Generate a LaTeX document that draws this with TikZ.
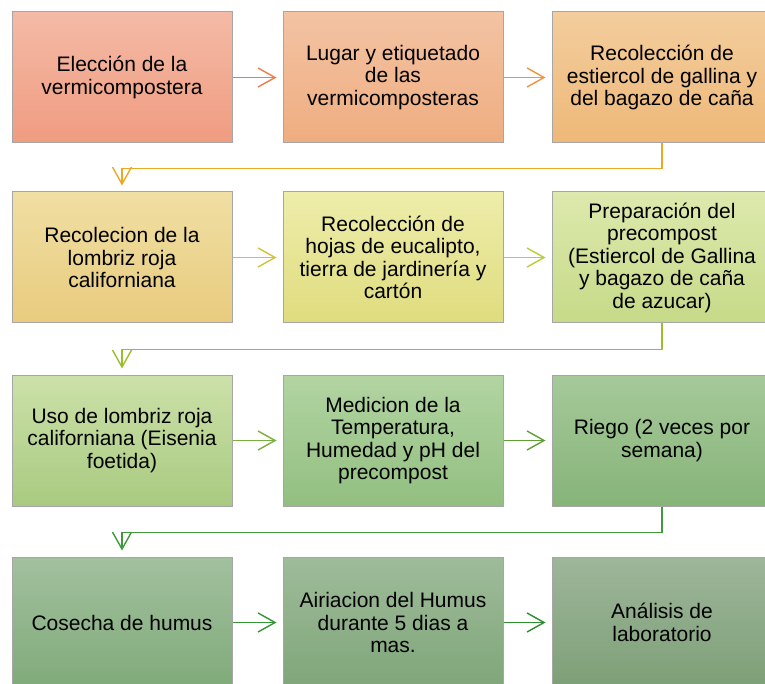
\documentclass[tikz,border=0pt]{standalone}
\usepackage{fontspec}
\setmainfont{Liberation Sans}
\usepackage{tikz}
\usetikzlibrary{arrows.meta}
\definecolor{cA1}{HTML}{F4BAA6}\definecolor{cA2}{HTML}{F09C80}
\definecolor{cB1}{HTML}{F3C3A3}\definecolor{cB2}{HTML}{EFAD80}
\definecolor{cC1}{HTML}{F3CD9D}\definecolor{cC2}{HTML}{EEB878}
\definecolor{cD1}{HTML}{F0DFA3}\definecolor{cD2}{HTML}{E8CB7E}
\definecolor{cE1}{HTML}{EEEDAA}\definecolor{cE2}{HTML}{DFDC7E}
\definecolor{cF1}{HTML}{DDE9AD}\definecolor{cF2}{HTML}{C6DA88}
\definecolor{cG1}{HTML}{CCE1A9}\definecolor{cG2}{HTML}{A9CA80}
\definecolor{cH1}{HTML}{B2D4A2}\definecolor{cH2}{HTML}{92BF80}
\definecolor{cI1}{HTML}{A6C99A}\definecolor{cI2}{HTML}{86B478}
\definecolor{cJ1}{HTML}{A2C09E}\definecolor{cJ2}{HTML}{80AA7A}
\definecolor{cK1}{HTML}{9FBB9A}\definecolor{cK2}{HTML}{7FA679}
\definecolor{cL1}{HTML}{9EB69A}\definecolor{cL2}{HTML}{7D9F77}
\definecolor{aA}{HTML}{EE7C4B}\definecolor{aB}{HTML}{F0923E}
\definecolor{sA}{HTML}{EBA826}
\definecolor{aC}{HTML}{D2C23A}\definecolor{aD}{HTML}{BCCB38}
\definecolor{sB}{HTML}{9CBD2C}
\definecolor{aE}{HTML}{78AF3E}\definecolor{aF}{HTML}{5EA036}
\definecolor{sC}{HTML}{3E9A3A}
\definecolor{aG}{HTML}{349436}\definecolor{aH}{HTML}{2E8B2E}
\tikzstyle{Etapa}=[rectangle, minimum width=220, minimum height=131, align=center, draw=black!35, line width=1pt, font=\fontsize{21}{22.5}\selectfont]
\tikzstyle{Flecha}=[line width=1.4pt, -{Straight Barb[length=17pt,width=19pt,line width=1.4pt]}, shorten >=6pt]

\begin{document}
\begin{tikzpicture}[x=1pt, y=-1pt]
    \useasboundingbox (0,0) rectangle (765,684);
    \clip (0,0) rectangle (765,684);
    \path
    (122,77.5) node[Etapa, top color=cA1, bottom color=cA2] (eleccion) {Elección de la\\vermicompostera}
    (393,77.5) node[Etapa, top color=cB1, bottom color=cB2] (lugar) {Lugar y etiquetado\\de las\\vermicomposteras}
    (662,77.5) node[Etapa, top color=cC1, bottom color=cC2] (estiercol) {Recolección de\\estiercol de gallina y\\del bagazo de caña}
    (122,257.5) node[Etapa, top color=cD1, bottom color=cD2] (lombriz) {Recolecion de la\\lombriz roja\\californiana}
    (393,257.5) node[Etapa, top color=cE1, bottom color=cE2] (hojas) {Recolección de\\hojas de eucalipto,\\tierra de jardinería y\\cartón}
    (662,257.5) node[Etapa, top color=cF1, bottom color=cF2] (precompost) {Preparación del\\precompost\\(Estiercol de Gallina\\y bagazo de caña\\de azucar)}
    (122,440.5) node[Etapa, top color=cG1, bottom color=cG2] (uso) {Uso de lombriz roja\\californiana (Eisenia\\foetida)}
    (393,440.5) node[Etapa, top color=cH1, bottom color=cH2] (medicion) {Medicion de la\\Temperatura,\\Humedad y pH del\\precompost}
    (662,440.5) node[Etapa, top color=cI1, bottom color=cI2] (riego) {Riego (2 veces por\\semana)}
    (122,622.5) node[Etapa, top color=cJ1, bottom color=cJ2] (cosecha) {Cosecha de humus}
    (393,622.5) node[Etapa, top color=cK1, bottom color=cK2] (airiacion) {Airiacion del Humus\\durante 5 dias a\\mas.}
    (662,622.5) node[Etapa, top color=cL1, bottom color=cL2] (analisis) {Análisis de\\laboratorio};

    \draw[Flecha, aA] (eleccion) -- (lugar);
    \draw[Flecha, aB] (lugar) -- (estiercol);
    \draw[Flecha, sA] (estiercol.south) -- ++(0,25) -| (lombriz.north);
    \draw[Flecha, aC] (lombriz) -- (hojas);
    \draw[Flecha, aD] (hojas) -- (precompost);
    \draw[Flecha, sB] (precompost.south) -- ++(0,26) -| (uso.north);
    \draw[Flecha, aE] (uso) -- (medicion);
    \draw[Flecha, aF] (medicion) -- (riego);
    \draw[Flecha, sC] (riego.south) -- ++(0,26) -| (cosecha.north);
    \draw[Flecha, aG] (cosecha) -- (airiacion);
    \draw[Flecha, aH] (airiacion) -- (analisis);
\end{tikzpicture}
\end{document}
